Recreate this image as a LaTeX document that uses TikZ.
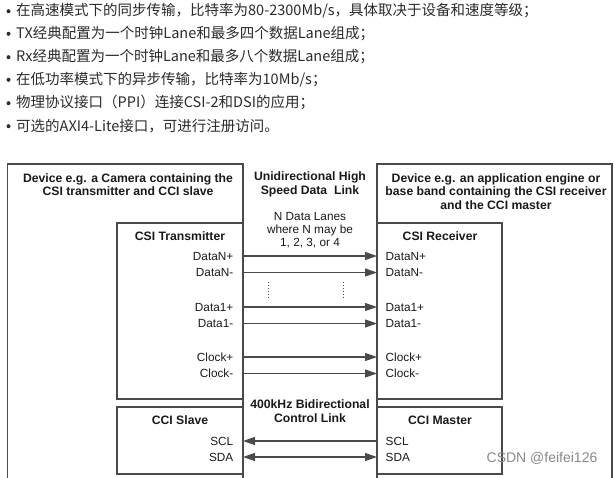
\documentclass[tikz,border=0pt]{standalone}
\usepackage{fontspec}
\setmainfont{Liberation Sans}
\newfontfamily\cjk{Noto Sans CJK SC}
\usetikzlibrary{arrows.meta}
\definecolor{linec}{HTML}{4A4A4A}
\definecolor{txt}{HTML}{1A1A1A}
\definecolor{cntxt}{HTML}{2B2B2B}
\definecolor{wm}{HTML}{8A8A8A}
\begin{document}
\begin{tikzpicture}[x=1pt,y=-1pt,
  box/.style={draw=linec, line width=1.1pt, inner sep=0pt},
  lbl/.style={font=\fontsize{11.8}{13}\selectfont, text=txt, inner sep=0pt},
  ttl/.style={font=\bfseries\fontsize{12.2}{13.6}\selectfont, align=center, text=txt, inner sep=0pt},
  mid/.style={font=\fontsize{11.8}{13.2}\selectfont, align=center, text=txt, inner sep=0pt},
  arr/.style={line width=1.1pt, draw=linec, -{Triangle[length=12pt,width=8pt]}},
  darr/.style={line width=1.1pt, draw=linec, {Triangle[length=12pt,width=8pt]}-{Triangle[length=12pt,width=8pt]}},
  cn/.style={font=\cjk\fontsize{14.5}{16}\selectfont, text=cntxt, anchor=west, inner sep=0pt},
  bul/.style={fill=cntxt, draw=none, circle, minimum size=4pt, inner sep=0pt}]
\useasboundingbox[fill=white] (0,0) rectangle (615,477);

% bullet list
\foreach \i/\yy in {1/10.7,2/33.3,3/56.7,4/79.3,5/102.7,6/125.7}{
  \node[bul] (b\i) at (8.5,\yy+0.5) {};
}
\node[cn] (t1) at (16,10.7) {在高速模式下的同步传输，比特率为80-2300Mb/s，具体取决于设备和速度等级；};
\node[cn] (t2) at (16,33.3) {TX经典配置为一个时钟Lane和最多四个数据Lane组成；};
\node[cn] (t3) at (16,56.7) {Rx经典配置为一个时钟Lane和最多八个数据Lane组成；};
\node[cn] (t4) at (16,79.3) {在低功率模式下的异步传输，比特率为10Mb/s；};
\node[cn] (t5) at (16,102.7) {物理协议接口（PPI）连接CSI-2和DSI的应用；};
\node[cn] (t6) at (16,125.7) {可选的AXI4-Lite接口，可进行注册访问。};

% outer device boxes
\draw[linec, line width=1.1pt] (7.5,480) -- (7.5,164) -- (243,164) -- (243,480);
\draw[linec, line width=1.1pt] (377,480) -- (377,164) -- (612,164) -- (612,480);
\node[ttl] (ltitle) at (128,184.5) {Device e.g. a Camera containing the\\CSI transmitter and CCI slave};
\node[ttl] (rtitle) at (496,191.5) {Device e.g. an application engine or\\base band containing the CSI receiver\\and the CCI master};
\node[ttl] (mtitle) at (310,184.5) {Unidirectional High\\Speed Data\ \ Link};
\node[mid] (lanes) at (310,230) {N Data Lanes\\where N may be\\1, 2, 3, or 4};
\node[ttl] (ctitle) at (310,411) {400kHz Bidirectional\\Control Link};

% inner boxes
\node[box, minimum width=126pt, minimum height=176pt] (tx) at (180,311) {};
\node[box, minimum width=126pt, minimum height=67pt] (slave) at (180,440.5) {};
\node[box, minimum width=125pt, minimum height=176pt] (rx) at (439.5,311) {};
\node[box, minimum width=125pt, minimum height=67pt] (master) at (439.5,440.5) {};

\node[ttl] (txt) at (180,236.5) {CSI Transmitter};
\node[ttl] (rxt) at (440,236.5) {CSI Receiver};
\node[ttl] (slt) at (180,420.5) {CCI Slave};
\node[ttl] (mat) at (440,420.5) {CCI Master};

% signal labels and connectors
\foreach \nm/\tx/\yy in {dnp/DataN+/256, dnm/DataN-/272.5, dop/Data1+/307, dom/Data1-/323.5, ckp/Clock+/357, ckm/Clock-/373.5}{
  \node[lbl, anchor=east] (l\nm) at (233.5,\yy) {\tx};
  \node[lbl, anchor=west] (r\nm) at (385.5,\yy) {\tx};
  \coordinate (a\nm) at (243,\yy);
  \coordinate (b\nm) at (377,\yy);
  \draw[arr] (a\nm) -- (b\nm);
}
\node[lbl, anchor=east] (lscl) at (233.5,441) {SCL};
\node[lbl, anchor=east] (lsda) at (233.5,457.5) {SDA};
\node[lbl, anchor=west] (rscl) at (385.5,441) {SCL};
\node[lbl, anchor=west] (rsda) at (385.5,457.5) {SDA};
\coordinate (ascl) at (243,441);
\coordinate (bscl) at (377,441);
\coordinate (asda) at (243,457);
\coordinate (bsda) at (377,457);
\draw[arr] (bscl) -- (ascl);
\draw[darr] (asda) -- (bsda);

% dotted continuation marks
\coordinate (d1t) at (268,282); \coordinate (d1b) at (268,298);
\coordinate (d2t) at (343,282); \coordinate (d2b) at (343,298);
\draw[linec, line width=0.9pt, dotted] (d1t) -- (d1b);
\draw[linec, line width=0.9pt, dotted] (d2t) -- (d2b);

% watermark
\node[font=\fontsize{14}{16}\selectfont, text=wm, inner sep=0pt] (wmk) at (542,458) {CSDN @feifei126};
\end{tikzpicture}
\end{document}
